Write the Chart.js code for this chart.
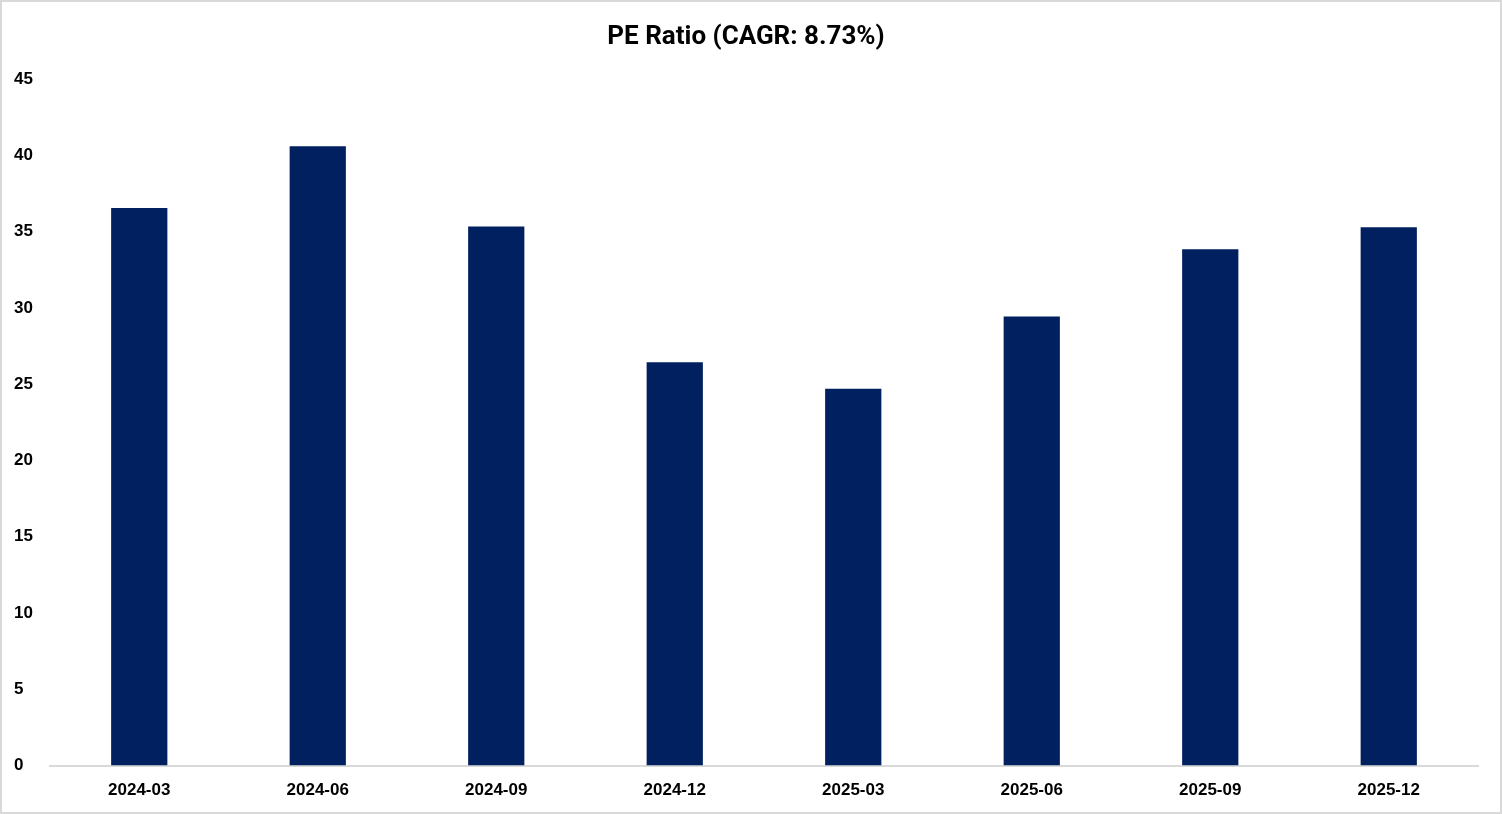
<!DOCTYPE html>
<html>
<head>
<meta charset="utf-8">
<script src="https://cdn.jsdelivr.net/npm/chart.js@4.4.1/dist/chart.umd.min.js"></script>
<style>
  html, body { margin: 0; padding: 0; background: #fff; }
  #wrap { width: 1502px; height: 814px; position: relative; }
</style>
</head>
<body>
<div id="wrap"><canvas id="chart"></canvas></div>
<script>
const quarters = ['2024-03', '2024-06', '2024-09', '2024-12', '2025-03', '2025-06', '2025-09', '2025-12'];
const peRatio = [36.55, 40.6, 35.35, 26.45, 24.7, 29.45, 33.85, 35.3];
const yTicks = [0, 5, 10, 15, 20, 25, 30, 35, 40, 45];

// light grey frame round the whole picture
const frame = {
  id: 'frame',
  afterDraw(chart) {
    const ctx = chart.ctx;
    ctx.save();
    ctx.strokeStyle = '#d9d9d9';
    ctx.lineWidth = 2;
    ctx.strokeRect(1, 1, chart.width - 2, chart.height - 2);
    ctx.restore();
  }
};

const ctx = document.getElementById('chart').getContext('2d');
new Chart(ctx, {
  type: 'bar',
  data: {
    labels: quarters,
    datasets: [{
      label: 'PE Ratio',
      data: peRatio,
      backgroundColor: '#002060',
      categoryPercentage: 1,
      barPercentage: 0.315,
    }],
  },
  options: {
    responsive: true,
    maintainAspectRatio: false,
    animation: false,
    layout: { padding: { left: 14, right: 24, top: 0, bottom: -2 } },
    plugins: {
      legend: { display: false },
      tooltip: { enabled: false },
      title: {
        display: true,
        text: 'PE Ratio (CAGR: 8.73%)',
        color: '#000',
        font: { family: 'Roboto', size: 26, weight: 'bold', lineHeight: 1.2 },
        padding: { top: 22, bottom: 26 },
      },
    },
    scales: {
      x: {
        grid: { display: false, drawTicks: false },
        border: { display: true, color: '#d9d9d9', width: 2 },
        ticks: {
          color: '#000',
          padding: 15,
          font: { family: 'Liberation Sans', size: 17, weight: 'bold' },
        },
      },
      y: {
        min: 0,
        max: 45,
        afterBuildTicks: (axis) => { axis.ticks = yTicks.map(v => ({ value: v })); },
        afterFit: (axis) => { axis.width = 36; },
        grid: { display: false, drawTicks: false },
        border: { display: false },
        ticks: {
          color: '#000',
          crossAlign: 'far',
          padding: 0,
          font: { family: 'Liberation Sans', size: 17, weight: 'bold' },
        },
      },
    },
  },
  plugins: [frame],
});
</script>
</body>
</html>
